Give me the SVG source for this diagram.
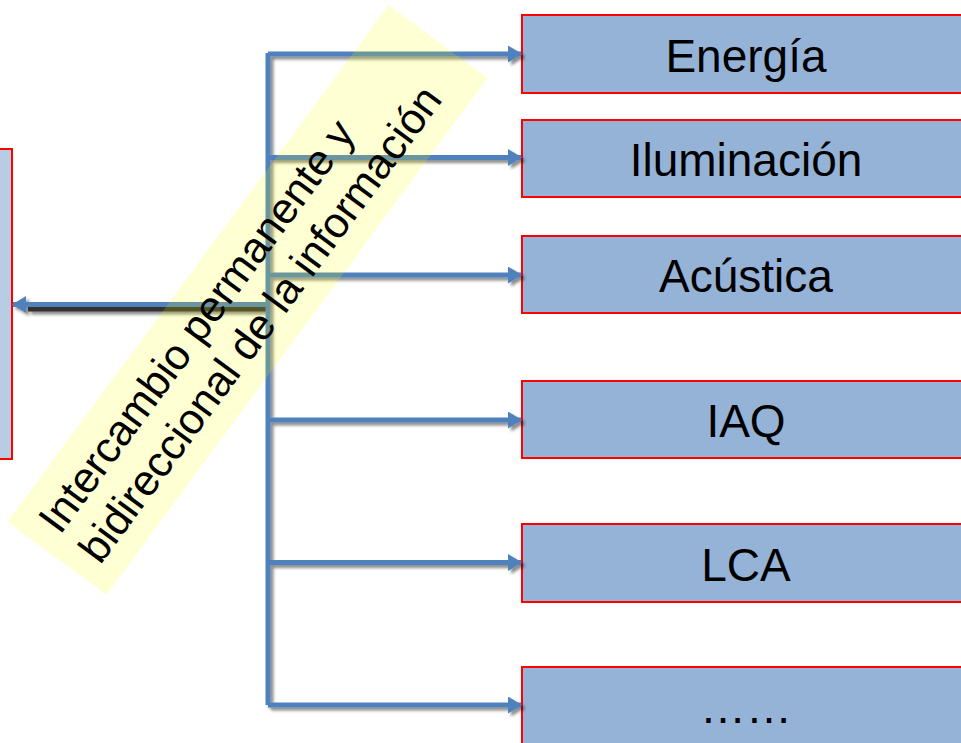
<svg xmlns="http://www.w3.org/2000/svg" width="961" height="743" viewBox="0 0 961 743">
<style>
.box{fill:#95b3d7;stroke:#ff0000;stroke-width:2}
.lbl{font-family:"Liberation Sans",Arial,sans-serif;font-size:46px;fill:#000;text-anchor:middle}
.ln{fill:none;stroke:#4f81bd;stroke-width:5}
.band{font-family:"Liberation Sans",Arial,sans-serif;font-size:43px;fill:#000}
</style>
<defs>
<marker id="ah" viewBox="0 0 14 17" refX="13" refY="8.5" markerWidth="14" markerHeight="17" markerUnits="userSpaceOnUse" orient="auto">
<path d="M0,0 L14,8.5 L0,17 Z" fill="#4f81bd"/>
</marker>
<filter id="sh" x="-10%" y="-10%" width="120%" height="120%">
<feDropShadow dx="3" dy="3" stdDeviation="1.5" flood-color="#000" flood-opacity="0.45"/>
</filter>
</defs>
<rect width="961" height="743" fill="#fff"/>
<g id="left-box"><rect x="-10" y="149" width="22" height="310" fill="#b8cce4" stroke="#ff0000" stroke-width="2"/></g>
<g id="n-energia"><rect class="box" x="522" y="15" width="460" height="78"/><text class="lbl" x="746" y="71.5">Energía</text></g>
<g id="n-iluminacion"><rect class="box" x="522" y="120" width="460" height="77"/><text class="lbl" x="746" y="176">Iluminación</text></g>
<g id="n-acustica"><rect class="box" x="522" y="236" width="460" height="77"/><text class="lbl" x="746" y="292">Acústica</text></g>
<g id="n-iaq"><rect class="box" x="522" y="381" width="460" height="77"/><text class="lbl" x="746" y="437">IAQ</text></g>
<g id="n-lca"><rect class="box" x="522" y="524" width="460" height="78"/><text class="lbl" x="746" y="580.5">LCA</text></g>
<g id="n-more"><rect class="box" x="522" y="667" width="460" height="80"/><text class="lbl" x="746" y="723">……</text></g>
<g id="connectors" filter="url(#sh)">
<line x1="28" y1="309" x2="268" y2="309" stroke="#333" stroke-width="5"/>
<path class="ln" d="M268,53 V705"/>
<path class="ln" d="M268,54 H521" marker-end="url(#ah)"/>
<path class="ln" d="M268,157.5 H521" marker-end="url(#ah)"/>
<path class="ln" d="M268,275 H521" marker-end="url(#ah)"/>
<path class="ln" d="M268,420 H521" marker-end="url(#ah)"/>
<path class="ln" d="M268,562.5 H521" marker-end="url(#ah)"/>
<path class="ln" d="M268,705 H521" marker-end="url(#ah)"/>
<path class="ln" d="M268,304.5 H13" marker-end="url(#ah)"/>
</g>
<g id="band" transform="translate(247.5,300) rotate(-53.6)">
<rect x="-321" y="-61.5" width="642" height="123" fill="#ffff00" fill-opacity="0.17"/>
<text class="band" x="-301" y="-11">Intercambio permanente y</text>
<text class="band" x="-301" y="39">bidireccional de la información</text>
</g>
</svg>
